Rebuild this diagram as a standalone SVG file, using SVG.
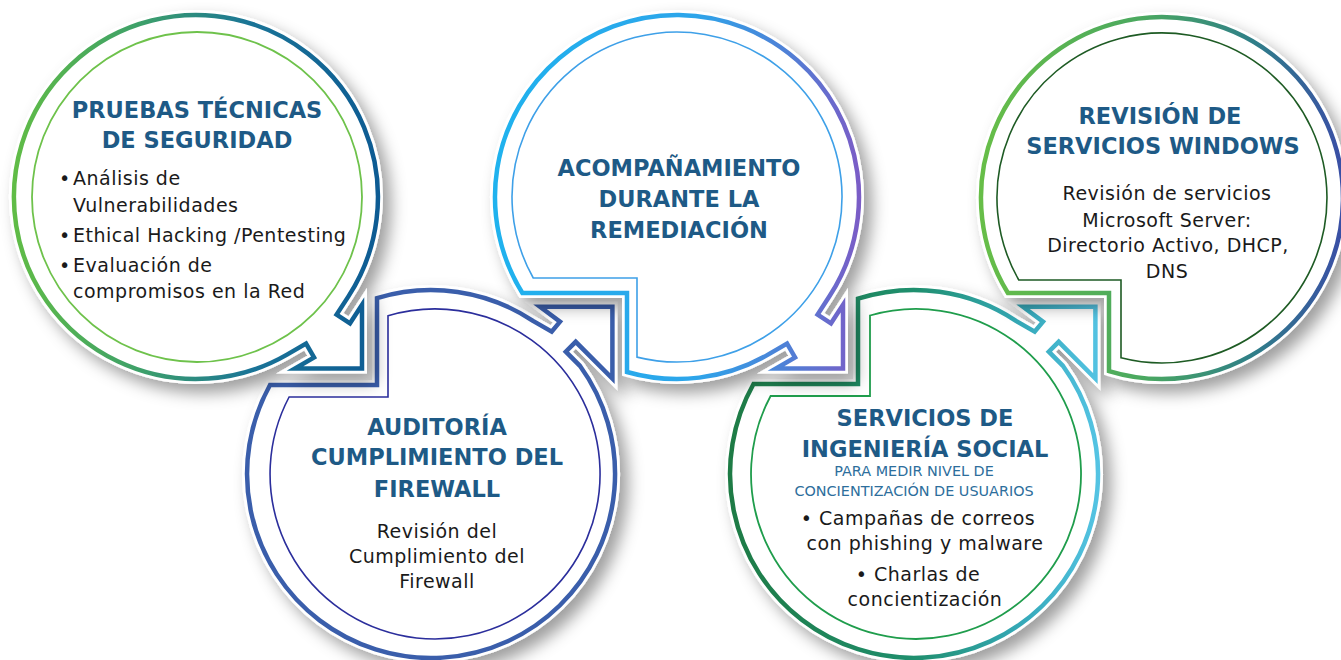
<svg xmlns="http://www.w3.org/2000/svg" width="1341" height="660" viewBox="0 0 1341 660">
<defs>
<filter id="sh" x="-20%" y="-20%" width="150%" height="150%"><feDropShadow dx="8" dy="9" stdDeviation="8" flood-color="#000" flood-opacity="0.38"/></filter>
<linearGradient id="g1" gradientUnits="userSpaceOnUse" x1="14" y1="0" x2="378" y2="0"><stop offset="0" stop-color="#60bc46"/><stop offset="0.35" stop-color="#3da06a"/><stop offset="0.65" stop-color="#1a7497"/><stop offset="1" stop-color="#0d5b93"/></linearGradient>
<linearGradient id="g3" gradientUnits="userSpaceOnUse" x1="494" y1="0" x2="860" y2="0"><stop offset="0" stop-color="#1fb2ee"/><stop offset="0.55" stop-color="#2da5ea"/><stop offset="0.8" stop-color="#4f80d6"/><stop offset="1" stop-color="#7b5cc6"/></linearGradient>
<linearGradient id="g4" gradientUnits="userSpaceOnUse" x1="730" y1="0" x2="1100" y2="0"><stop offset="0" stop-color="#1e7b45"/><stop offset="0.5" stop-color="#1f8f6e"/><stop offset="0.8" stop-color="#36aabb"/><stop offset="1" stop-color="#55c4e4"/></linearGradient>
<linearGradient id="g5" gradientUnits="userSpaceOnUse" x1="981" y1="0" x2="1343" y2="0"><stop offset="0" stop-color="#67be48"/><stop offset="0.45" stop-color="#4aa860"/><stop offset="0.75" stop-color="#2f7f88"/><stop offset="1" stop-color="#3a4ea6"/></linearGradient>
</defs>
<style>
.base{fill:#fff;stroke:#fff;stroke-width:10;stroke-linejoin:miter;filter:url(#sh)}
.ring{fill:none;stroke-width:4.5;stroke-linejoin:miter}
.in{fill:none}
.t{font-family:"DejaVu Sans",sans-serif;font-weight:bold;font-size:22.5px;fill:#1e5a86;text-anchor:middle}
.b{font-family:"DejaVu Sans",sans-serif;font-size:19px;letter-spacing:0.5px;fill:#1a1a1a}
.c{text-anchor:middle}
.s{font-family:"DejaVu Sans",sans-serif;font-size:14.4px;fill:#2d6e9c;text-anchor:middle}
</style>
<rect width="1341" height="660" fill="#fff"/>
<g id="connectors"/>

<g id="node-2">
<path class="base" d="M 377,298.1 A 184 184 0 0 1 533,320.9 L 551.7,331.7 L 560,321.7 L 540,306.7 L 612.4,306.7 L 612.4,378.5 L 575.7,341.8 L 565.8,351.7 L 579.9,365.8 A 184 184 0 1 1 270,385 L 377,385 Z"/>
<path class="ring" stroke="#3a5eab" d="M 377,298.1 A 184 184 0 0 1 533,320.9 L 551.7,331.7 L 560,321.7 L 540,306.7 L 612.4,306.7 L 612.4,378.5 L 575.7,341.8 L 565.8,351.7 L 579.9,365.8 A 184 184 0 1 1 270,385 L 377,385 Z"/>
<path class="in" stroke="#2b2e9c" stroke-width="1.6" d="M 388,315.8 A 165 165 0 1 1 289.1,397 L 388,397 Z"/>
<text class="t" x="437" y="435">AUDITORÍA</text>
<text class="t" x="437" y="465">CUMPLIMIENTO DEL</text>
<text class="t" x="437" y="497">FIREWALL</text>
<text class="b c" x="437" y="538">Revisión del</text>
<text class="b c" x="437" y="563">Cumplimiento del</text>
<text class="b c" x="437" y="588">Firewall</text>
</g>

<g id="node-4">
<path class="base" d="M 858,298.7 A 184 184 0 0 1 1016,320.9 L 1034.7,331.7 L 1043,321.7 L 1023,306.7 L 1095.4,306.7 L 1095.4,378.5 L 1058.7,341.8 L 1048.8,351.7 L 1062.9,365.8 A 184 184 0 1 1 753.5,384 L 858,384 Z"/>
<path class="ring" stroke="url(#g4)" d="M 858,298.7 A 184 184 0 0 1 1016,320.9 L 1034.7,331.7 L 1043,321.7 L 1023,306.7 L 1095.4,306.7 L 1095.4,378.5 L 1058.7,341.8 L 1048.8,351.7 L 1062.9,365.8 A 184 184 0 1 1 753.5,384 L 858,384 Z"/>
<path class="in" stroke="#1f9d4c" stroke-width="1.8" d="M 870,315.5 A 165 165 0 1 1 770.6,396 L 870,396 Z"/>
<text class="t" x="925" y="426">SERVICIOS DE</text>
<text class="t" x="925" y="457">INGENIERÍA SOCIAL</text>
<text class="s" x="914" y="476">PARA MEDIR NIVEL DE</text>
<text class="s" x="914" y="496">CONCIENTIZACIÓN DE USUARIOS</text>
<text class="b c" x="918" y="525">• Campañas de correos</text>
<text class="b c" x="925" y="550">con phishing y malware</text>
<text class="b c" x="918" y="581">• Charlas de</text>
<text class="b c" x="925" y="606">concientización</text>
</g>

<g id="node-1">
<path class="base" d="M 287,354.6 A 182 182 0 1 1 348.6,296.1 L 336.6,314.6 L 350,323.3 L 362,304.8 L 362,368.5 L 295,368.5 L 314.05,357.5 L 306.05,343.6 Z"/>
<path class="ring" stroke="url(#g1)" d="M 287,354.6 A 182 182 0 1 1 348.6,296.1 L 336.6,314.6 L 350,323.3 L 362,304.8 L 362,368.5 L 295,368.5 L 314.05,357.5 L 306.05,343.6 Z"/>
<circle class="in" cx="197" cy="197" r="165" stroke="#6ec24b" stroke-width="1.8"/>
<text class="t" x="197" y="118">PRUEBAS TÉCNICAS</text>
<text class="t" x="197" y="148">DE SEGURIDAD</text>
<text class="b" y="185"><tspan x="59">•</tspan><tspan x="73">Análisis de</tspan></text>
<text class="b" x="73" y="212">Vulnerabilidades</text>
<text class="b" y="242"><tspan x="59">•</tspan><tspan x="73">Ethical Hacking /Pentesting</tspan></text>
<text class="b" y="272"><tspan x="59">•</tspan><tspan x="73">Evaluación de</tspan></text>
<text class="b" x="73" y="298">compromisos en la Red</text>
</g>

<g id="node-3">
<path class="base" d="M 768,354.6 A 182 182 0 0 1 627,372 L 627,293 L 522.4,293 A 182 182 0 1 1 829.6,296.1 L 817.6,314.6 L 831,323.3 L 843,304.8 L 843,368.5 L 776,368.5 L 795.05,357.5 L 787.05,343.6 Z"/>
<path class="ring" stroke="url(#g3)" d="M 768,354.6 A 182 182 0 0 1 627,372 L 627,293 L 522.4,293 A 182 182 0 1 1 829.6,296.1 L 817.6,314.6 L 831,323.3 L 843,304.8 L 843,368.5 L 776,368.5 L 795.05,357.5 L 787.05,343.6 Z"/>
<path class="in" stroke="#3ea0e8" stroke-width="1.6" d="M 533.25,278 L 637,278 L 637,357.1 A 165 165 0 1 0 533.25,278 Z"/>
<text class="t" x="679" y="176">ACOMPAÑAMIENTO</text>
<text class="t" x="679" y="207">DURANTE LA</text>
<text class="t" x="679" y="238">REMEDIACIÓN</text>
</g>

<g id="node-5">
<path class="base" d="M 1007.9,293 L 1109,293 L 1109,371.1 A 181 181 0 1 0 1007.9,293 Z"/>
<path class="ring" stroke="url(#g5)" d="M 1007.9,293 L 1109,293 L 1109,371.1 A 181 181 0 1 0 1007.9,293 Z"/>
<path class="in" stroke="#1e5b24" stroke-width="1.6" d="M 1018.8,280 L 1121,280 L 1121,357.8 A 165 165 0 1 0 1018.8,280 Z"/>
<text class="t" x="1160" y="124">REVISIÓN DE</text>
<text class="t" x="1163" y="154">SERVICIOS WINDOWS</text>
<text class="b c" x="1167" y="200">Revisión de servicios</text>
<text class="b c" x="1167" y="227">Microsoft Server:</text>
<text class="b c" x="1168" y="252">Directorio Activo, DHCP,</text>
<text class="b c" x="1167" y="278">DNS</text>
</g>
</svg>
